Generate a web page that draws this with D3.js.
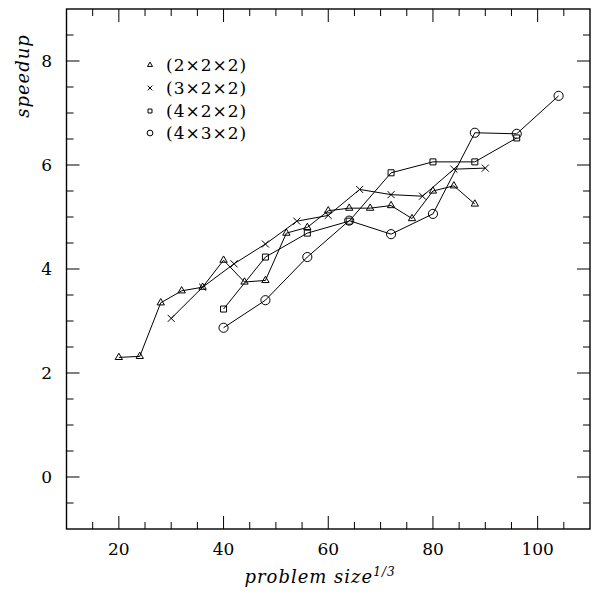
<!DOCTYPE html>
<html lang="en">
<head>
    <meta charset="utf-8" />
    <title>speedup vs problem size</title>
    <script src="https://d3js.org/d3.v7.min.js"></script>
    <style>
        body { margin: 0; background: #fff; }
        text { font-family: "DejaVu Serif", serif; fill: #000; }
    </style>
</head>
<body>
    <script>
        var w = 594;
        var h = 593;

        // data
        var seriesNames = ["(2\u00d72\u00d72)", "(3\u00d72\u00d72)", "(4\u00d72\u00d72)", "(4\u00d73\u00d72)"];

        var x222 = [20, 24, 28, 32, 36, 40, 44, 48, 52, 56, 60, 64, 68, 72, 76, 80, 84, 88];
        var y222 = [2.3, 2.32, 3.35, 3.58, 3.65, 4.17, 3.75, 3.78, 4.69, 4.8, 5.12, 5.17, 5.17, 5.22, 4.97, 5.5, 5.6, 5.25];

        var x322 = [30, 36, 42, 48, 54, 60, 66, 72, 78, 84, 90];
        var y322 = [3.05, 3.65, 4.1, 4.48, 4.92, 5.03, 5.53, 5.43, 5.4, 5.92, 5.94];

        var x422 = [40, 48, 56, 64, 72, 80, 88, 96];
        var y422 = [3.23, 4.23, 4.69, 4.92, 5.85, 6.06, 6.06, 6.52];

        var x432 = [40, 48, 56, 64, 72, 80, 88, 96, 104];
        var y432 = [2.87, 3.4, 4.23, 4.93, 4.67, 5.06, 6.62, 6.6, 7.33];

        var xTicks = [20, 40, 60, 80, 100];
        var yTicks = [0, 2, 4, 6, 8];

        // plot box (window.top is reserved, so prefix the names)
        var boxL = 66.5, boxR = 590, boxT = 9, boxB = 529;

        var xScale = d3.scaleLinear().domain([10, 110]).range([boxL, boxR]);
        var yScale = d3.scaleLinear().domain([-1, 9]).range([boxB, boxT]);

        var svg = d3.select("body").append("svg")
            .attr("width", w)
            .attr("height", h);

        // frame
        svg.append("rect")
            .attr("x", boxL).attr("y", boxT)
            .attr("width", boxR - boxL).attr("height", boxB - boxT)
            .attr("fill", "none").attr("stroke", "#000").attr("stroke-width", 1.4);

        // ticks on all four sides, pointing inward
        var xMinor = d3.range(15, 110, 5);
        var yMinor = d3.range(-0.5, 9, 0.5);
        var ticks = svg.append("g").attr("stroke", "#000").attr("stroke-width", 1);

        xMinor.forEach(function (v) {
            var len = (v % 20 === 0) ? 13 : 7;
            ticks.append("line").attr("x1", xScale(v)).attr("x2", xScale(v))
                .attr("y1", boxB).attr("y2", boxB - len);
            ticks.append("line").attr("x1", xScale(v)).attr("x2", xScale(v))
                .attr("y1", boxT).attr("y2", boxT + len);
        });
        yMinor.forEach(function (v) {
            var len = (Math.abs(v % 2) < 1e-9) ? 13 : 7;
            ticks.append("line").attr("y1", yScale(v)).attr("y2", yScale(v))
                .attr("x1", boxL).attr("x2", boxL + len);
            ticks.append("line").attr("y1", yScale(v)).attr("y2", yScale(v))
                .attr("x1", boxR).attr("x2", boxR - len);
        });

        // tick labels
        svg.selectAll(".xlab")
            .data(xTicks)
            .enter()
            .append("text")
            .attr("x", function (d) { return xScale(d); })
            .attr("y", 555)
            .attr("text-anchor", "middle")
            .attr("font-size", "17px")
            .text(function (d) { return d; });

        svg.selectAll(".ylab")
            .data(yTicks)
            .enter()
            .append("text")
            .attr("x", 52)
            .attr("y", function (d) { return yScale(d) + 6; })
            .attr("text-anchor", "end")
            .attr("font-size", "17px")
            .text(function (d) { return d; });

        // axis titles
        var xt = svg.append("text")
            .attr("x", 320).attr("y", 583)
            .attr("text-anchor", "middle")
            .attr("font-size", "18px")
            .attr("font-style", "italic")
            .attr("letter-spacing", "1px");
        xt.append("tspan").text("problem size");
        xt.append("tspan").attr("dy", -7).attr("font-size", "12px").text("1/3");

        svg.append("text")
            .attr("transform", "translate(29,76) rotate(-90)")
            .attr("text-anchor", "middle")
            .attr("font-size", "18px")
            .attr("font-style", "italic")
            .attr("letter-spacing", "1px")
            .text("speedup");

        // series
        var series = [
            { xs: x222, ys: y222, sym: d3.symbolTriangle2, size: 38 },
            { xs: x322, ys: y322, sym: d3.symbolTimes, size: 34 },
            { xs: x422, ys: y422, sym: d3.symbolSquare2, size: 46 },
            { xs: x432, ys: y432, sym: d3.symbolCircle, size: 66 }
        ];

        var line = d3.line()
            .x(function (d) { return xScale(d[0]); })
            .y(function (d) { return yScale(d[1]); });

        series.forEach(function (s) {
            var pts = s.xs.map(function (v, i) { return [v, s.ys[i]]; });
            svg.append("path")
                .attr("d", line(pts))
                .attr("fill", "none")
                .attr("stroke", "#000")
                .attr("stroke-width", 1);
            svg.selectAll(null)
                .data(pts)
                .enter()
                .append("path")
                .attr("transform", function (d) {
                    return "translate(" + xScale(d[0]) + "," + yScale(d[1]) + ")";
                })
                .attr("d", d3.symbol().type(s.sym).size(s.size))
                .attr("fill", "none")
                .attr("stroke", "#000")
                .attr("stroke-width", 1);
        });

        // legend
        var legendY = [65, 88, 111, 133];
        var legendSize = [18, 16, 20, 26];
        series.forEach(function (s, i) {
            svg.append("path")
                .attr("transform", "translate(150," + legendY[i] + ")")
                .attr("d", d3.symbol().type(s.sym).size(legendSize[i]))
                .attr("fill", "none")
                .attr("stroke", "#000")
                .attr("stroke-width", 1);
            svg.append("text")
                .attr("x", 166)
                .attr("y", legendY[i] + 6)
                .attr("font-size", "17px")
                .attr("letter-spacing", "1px")
                .text(seriesNames[i]);
        });
    </script>
</body>
</html>
